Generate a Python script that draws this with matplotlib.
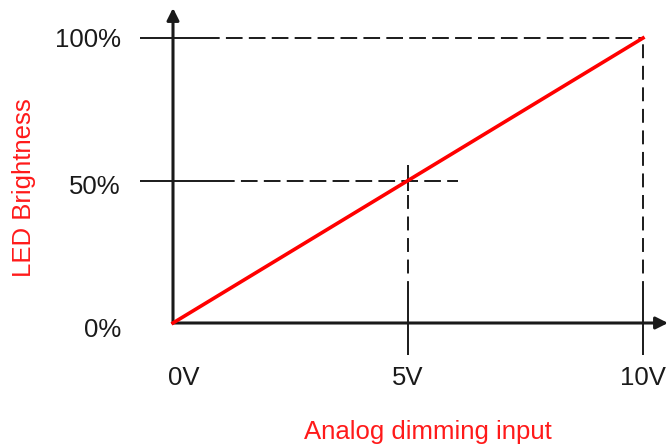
import matplotlib.pyplot as plt

# analog dimming: input voltage vs LED brightness
volts = [0, 10]
brightness = [0, 100]
x_ticks = [0, 5, 10]
x_tick_labels = ['0V', '5V', '10V']
y_ticks = [0, 50, 100]
y_tick_labels = ['0%', '50%', '100%']

W, H = 668, 447
plt.rcParams['font.family'] = ['Liberation Sans', 'DejaVu Sans']
plt.rcParams['lines.scale_dashes'] = False

fig = plt.figure(figsize=(W / 100, H / 100), dpi=100)
# axes box: 0V at 173px, 10V at 643px, 0% at 323px, 100% at 38px
ax = fig.add_axes([173 / W, (H - 323) / H, (643 - 173) / W, (323 - 38) / H])
ax.set_xlim(0, 10)
ax.set_ylim(0, 100)
ax.axis('off')

px_x = 10 / (643 - 173)   # volts per pixel
px_y = 100 / (323 - 38)   # percent per pixel
black = '#1a1a1a'
dash_h = (0, (12, 4.5))
dash_v = (0, (10, 5.5))
fs = 18.5

def seg(x, y, ls='-', lw=1.4):
    ax.plot(x, y, color=black, lw=lw, ls=ls, clip_on=False, solid_capstyle='butt')

# guide lines at 100% and 50%
x_left = -33 * px_x
seg([x_left, 30 * px_x], [100, 100])
seg([30 * px_x, 10], [100, 100], ls=dash_h)
seg([x_left, 45 * px_x], [50, 50])
seg([45 * px_x, (458 - 173) * px_x], [50, 50], ls=dash_h)

# vertical guides at 5V and 10V
y_low = -32 * px_y
y_tick_top = 28 * px_y
seg([5, 5], [y_low, y_tick_top])
seg([5, 5], [y_tick_top, 50 - 11 * px_y], ls=dash_v)
seg([5, 5], [50 - 11 * px_y, 50 + 16 * px_y])
seg([10, 10], [y_low, y_tick_top])
seg([10, 10], [y_tick_top, 100], ls=dash_v)

# axes with arrow heads
ax.annotate('', xy=((668 - 173) * px_x, 0), xytext=(0, 0),
            arrowprops=dict(arrowstyle='-|>', color=black, lw=2.2,
                            mutation_scale=18, shrinkA=0, shrinkB=0),
            annotation_clip=False)
ax.annotate('', xy=(0, (323 - 8) * px_y), xytext=(0, 0),
            arrowprops=dict(arrowstyle='-|>', color=black, lw=2.2,
                            mutation_scale=18, shrinkA=0, shrinkB=0),
            annotation_clip=False)

# the response line
ax.plot(volts, brightness, color='#ff0000', lw=2.6, clip_on=False, zorder=5)

# tick labels
for v, lab in zip(x_ticks, x_tick_labels):
    xo = 11 * px_x if v == 0 else 0
    ax.text(v + xo, -55 * px_y, lab, ha='center', va='center', fontsize=fs, color=black)
for p, lab, dy in zip(y_ticks, y_tick_labels, [7, 6, 2]):
    ax.text(-52 * px_x, p - dy * px_y, lab, ha='right', va='center', fontsize=fs, color=black)

fig.text(428 / W, 1 - 432 / H, 'Analog dimming input', ha='center', va='center',
         fontsize=fs, color='#ff1a1a')
fig.text(24 / W, 1 - 188 / H, 'LED Brightness', ha='center', va='center',
         rotation=90, fontsize=fs, color='#ff1a1a')

fig.savefig('out.png', dpi=100)
